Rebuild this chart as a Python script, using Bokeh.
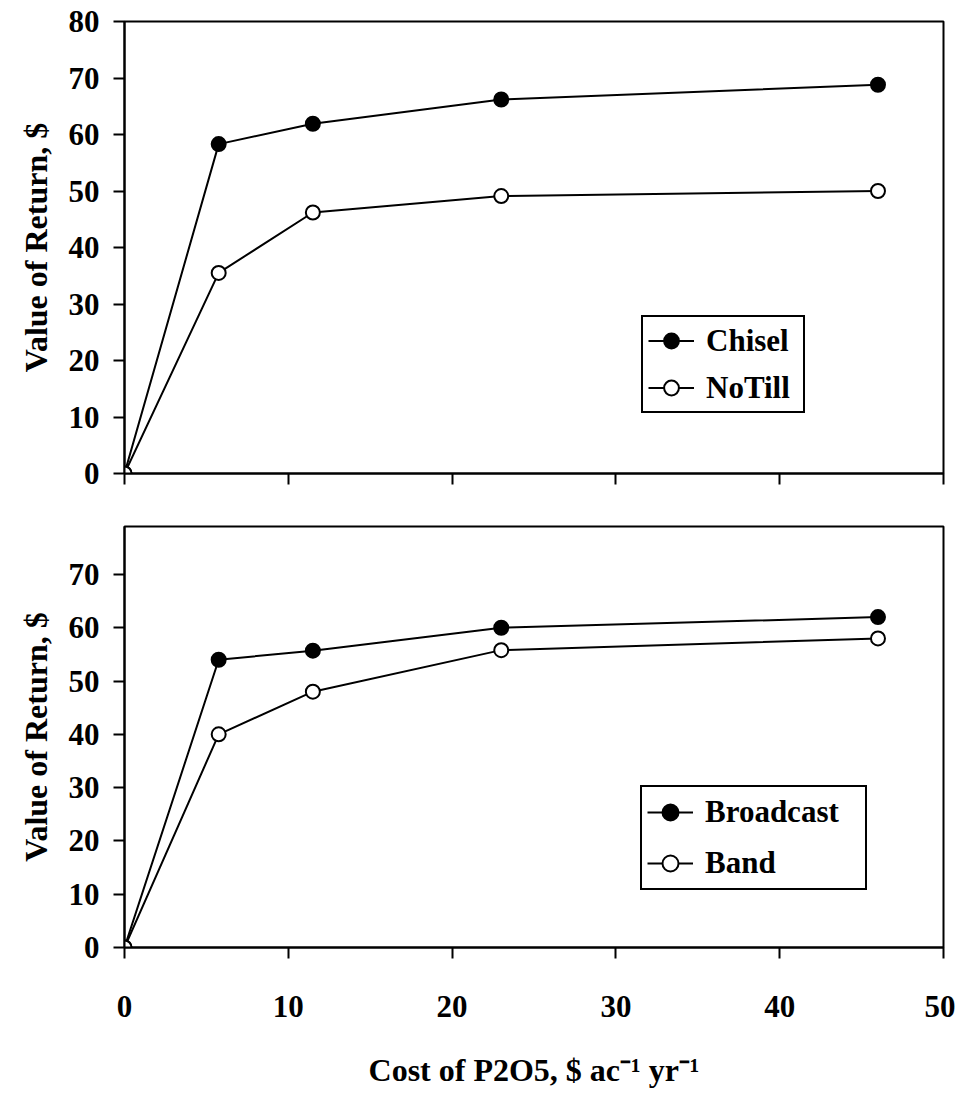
from bokeh.plotting import figure
from bokeh.layouts import column
from bokeh.models import Range1d, FixedTicker, CustomLabelingPolicy
from bokeh.embed import file_html
from bokeh.resources import INLINE

# ---- data ----
cost = [0, 5.75, 11.5, 23, 46]
chisel = [0, 58.3, 61.9, 66.2, 68.8]
notill = [0, 35.5, 46.2, 49.1, 50.0]
broadcast = [0, 54.0, 55.7, 60.0, 62.0]
band = [0, 40.0, 48.0, 55.8, 58.0]
x_ticks = [0, 10, 20, 30, 40, 50]
y_ticks_top = [0, 10, 20, 30, 40, 50, 60, 70, 80]
y_ticks_bottom = [0, 10, 20, 30, 40, 50, 60, 70]

FONT = "Liberation Serif"
TICK_SIZE = "31px"
LABEL_SIZE = "32px"
LEGEND_SIZE = "31px"


def style(p, yticks):
    p.background_fill_color = "white"
    p.border_fill_color = "white"
    p.outline_line_color = "black"
    p.outline_line_width = 2
    p.xgrid.visible = False
    p.ygrid.visible = False
    p.xaxis.ticker = FixedTicker(ticks=x_ticks)
    p.yaxis.ticker = FixedTicker(ticks=yticks)
    for ax in (p.xaxis[0], p.yaxis[0]):
        ax.axis_line_width = 2
        ax.axis_line_color = "black"
        ax.major_tick_line_width = 2
        ax.major_tick_line_color = "black"
        ax.major_tick_in = 0
        ax.major_tick_out = 11
        ax.minor_tick_line_color = None
        ax.major_label_text_font = FONT
        ax.major_label_text_font_style = "bold"
        ax.major_label_text_font_size = TICK_SIZE
        ax.major_label_text_color = "black"
        ax.axis_label_text_font = FONT
        ax.axis_label_text_font_style = "bold"
        ax.axis_label_text_font_size = LABEL_SIZE
        ax.axis_label_text_color = "black"
    p.yaxis.major_label_standoff = 14
    p.yaxis.axis_label_standoff = 12
    p.yaxis.axis_label = "Value of Return, $"


def series(p, ys, label, filled):
    p.line(cost, ys, line_color="black", line_width=2, legend_label=label)
    p.scatter(cost, ys, size=14, marker="circle", line_color="black", line_width=2,
              fill_color="black" if filled else "white", legend_label=label)


def style_legend(p, loc, h, pad, spacing, lw):
    lg = p.legend[0]
    lg.location = loc
    lg.border_line_color = "black"
    lg.border_line_width = 2
    lg.border_line_alpha = 1
    lg.background_fill_color = "white"
    lg.background_fill_alpha = 1
    lg.label_text_font = FONT
    lg.label_text_font_style = "bold"
    lg.label_text_font_size = LEGEND_SIZE
    lg.label_text_color = "black"
    lg.glyph_width = 46
    lg.glyph_height = h
    lg.label_height = h
    lg.label_width = lw
    lg.label_standoff = 12
    lg.padding = pad
    lg.spacing = spacing
    lg.margin = 0


# ---- top panel ----
p1 = figure(width=955, height=508, output_backend="svg", toolbar_location=None,
            x_range=Range1d(0, 50), y_range=Range1d(0, 80),
            min_border_left=124, min_border_right=12, min_border_top=21, min_border_bottom=23)
style(p1, y_ticks_top)
p1.xaxis.major_label_policy = CustomLabelingPolicy(
    code="for (const i of indices) indices.unset(i)")
p1.xaxis.major_label_standoff = 0
series(p1, chisel, "Chisel", True)
series(p1, notill, "NoTill", False)
style_legend(p1, (517, 60), 37, 5, 10, 92)

# ---- bottom panel ----
p2 = figure(width=955, height=590, output_backend="svg", toolbar_location=None,
            x_range=Range1d(0, 50), y_range=Range1d(0, 79),
            min_border_left=124, min_border_right=12, min_border_top=18, min_border_bottom=151)
style(p2, y_ticks_bottom)
p2.xaxis.major_label_standoff = 37
p2.xaxis.axis_label_standoff = 32
p2.xaxis.axis_label = "Cost of P2O5, $ ac\u207b\u00b9 yr\u207b\u00b9"
series(p2, broadcast, "Broadcast", True)
series(p2, band, "Band", False)
style_legend(p2, (516, 57), 40, 5, 11, 155)

layout = column(p1, p2, spacing=0)
open("out.html", "w").write(file_html(layout, INLINE))
